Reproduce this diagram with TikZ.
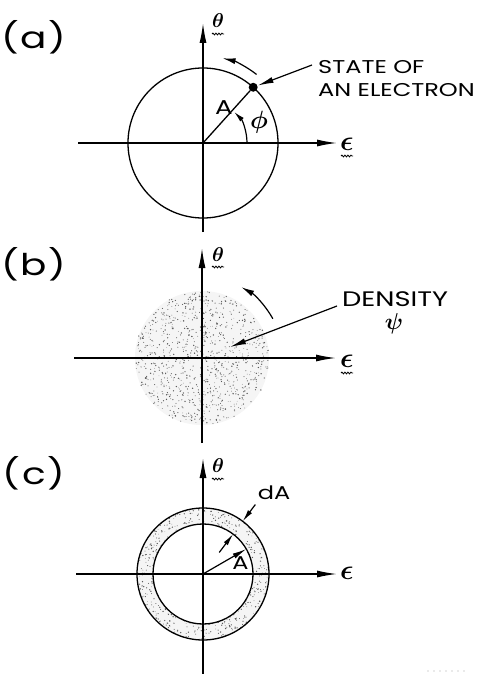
\documentclass[tikz,border=0pt]{standalone}
\usepackage{graphicx}
\usepackage{fontspec}
\setmainfont{Poppins}
\newfontfamily\lettr[FakeStretch=1.3]{Poppins}
\usetikzlibrary{arrows.meta,decorations.pathmorphing}
\tikzset{
  ln/.style={line width=1.3pt},
  axis/.style={line width=1.4pt, -{Latex[length=20pt,width=7pt]}},
  ptr/.style={line width=1.2pt, -{Latex[length=16pt,width=6pt]}},
  rot/.style={line width=1.2pt, -{Latex[length=13pt,width=6pt]}},
  lab/.style={font=\lettr\fontsize{18.5}{23}\selectfont, inner sep=0pt},
  biglab/.style={font=\lettr\fontsize{20}{24}\selectfont, inner sep=0pt},
  greek/.style={inner sep=0pt},
  wave/.style={line width=0.8pt, decorate, decoration={snake, amplitude=0.9pt, segment length=3pt}},
  panel/.style={font=\lettr\fontsize{30}{30}\selectfont\addfontfeature{LetterSpace=5}, inner sep=0pt},
  dot/.style={circle, fill=black, inner sep=0pt, minimum size=9pt},
}
\newcommand\mystipple[3]{%
  \fill[black!4, even odd rule] (0,0) circle[radius=#2pt] (0,0) circle[radius=#1pt];
  \foreach \k in {1,...,#3}{%
    \pgfmathsetmacro\qrad{sqrt(#1*#1+(#2*#2-#1*#1)*rnd)}%
    \pgfmathsetmacro\qang{360*rnd}%
    \pgfmathsetmacro\qsz{0.3+0.45*rnd}%
    \fill[black!65] (\qang:\qrad pt) circle[radius=\qsz pt];
  }}
\newcommand\gk[2]{\scalebox{#1}{\boldmath$#2$}}
\begin{document}
\begin{tikzpicture}[x=1pt,y=1pt]
\pgfmathsetseed{4711}
\useasboundingbox (0,0) rectangle (478,-674);
\fill[white] (0,0) rectangle (478,-674);

% ---------------- (a)
\node[panel] (pa) at (34,-37) {(a)};
\begin{scope}[shift={(203,-143)}]
  \coordinate (Oa) at (0,0);
  \draw[ln] (Oa) circle[radius=75pt];
  \coordinate (xa1) at (-125,0); \coordinate (xa2) at (134,0);
  \coordinate (ya1) at (0,-89);  \coordinate (ya2) at (0,120);
  \draw[axis] (xa1) -- (xa2);
  \draw[axis] (ya1) -- (ya2);
  \node[greek] (tha) at (15,122) {\gk{2.0}{\theta}};
  \draw[wave] (9,109) -- (21,109);
  \node[greek] (epa) at (144,-1) {\gk{2.8}{\epsilon}};
  \draw[wave] (138,-13) -- (150,-13);
  \node[dot] (ea) at (48:75pt) {};
  \draw[ln] (Oa) -- (ea);
  \draw[ptr, -{Latex[length=11pt,width=5pt]}] (44pt,0) arc[start angle=0, end angle=45, radius=44pt];
  \draw[rot] (52:87pt) arc[start angle=52, end angle=77, radius=87pt];
  \node[biglab] (Aa) at (21,35) {A};
  \node[greek] (phi) at (56,21) {\gk{2.5}{\phi}};
  \node[lab, align=left, anchor=north west] (sta) at (115,83) {STATE OF\\AN ELECTRON};
  \coordinate (sa) at (109,78);
  \draw[ptr] (sa) -- (ea);
\end{scope}

% ---------------- (b)
\node[panel] (pb) at (34,-264) {(b)};
\begin{scope}[shift={(202,-358)}]
  \coordinate (Ob) at (0,0);
  \mystipple{0}{67}{950}
  \coordinate (xb1) at (-128,0); \coordinate (xb2) at (134,0);
  \coordinate (yb1) at (0,-85);  \coordinate (yb2) at (0,110);
  \draw[axis] (xb1) -- (xb2);
  \draw[axis] (yb1) -- (yb2);
  \node[greek] (thb) at (16,103) {\gk{2.0}{\theta}};
  \draw[wave] (10,91) -- (22,91);
  \node[greek] (epb) at (145,-3) {\gk{2.8}{\epsilon}};
  \draw[wave] (139,-15) -- (151,-15);
  \draw[rot] (29:81pt) arc[start angle=29, end angle=61, radius=81pt];
  \node[lab, font=\lettr\fontsize{21}{24}\selectfont, anchor=base] (den) at (193,52) {DENSITY};
  \node[greek] (psi) at (192,34) {\gk{2.3}{\psi}};
  \coordinate (sb) at (135,52);
  \coordinate (tb) at (28,11);
  \draw[ptr] (sb) -- (tb);
\end{scope}

% ---------------- (c)
\node[panel] (pc) at (34,-473) {(c)};
\begin{scope}[shift={(203,-574)}]
  \coordinate (Oc) at (0,0);
  \mystipple{50}{66}{420}
  \draw[ln] (Oc) circle[radius=66pt];
  \draw[ln] (Oc) circle[radius=50pt];
  \coordinate (xc1) at (-127,0); \coordinate (xc2) at (134,0);
  \coordinate (yc1) at (0,-101); \coordinate (yc2) at (0,116);
  \draw[axis] (xc1) -- (xc2);
  \draw[axis] (yc1) -- (yc2);
  \node[greek] (thc) at (15,108) {\gk{2.0}{\theta}};
  \draw[wave] (9,95) -- (21,95);
  \node[greek] (epc) at (144,1) {\gk{2.8}{\epsilon}};
  \coordinate (ra) at (30:50pt);
  \draw[ptr, -{Latex[length=14pt,width=5.5pt]}] (Oc) -- (ra);
  \node[lab] (Ac) at (37.5,10.5) {A};
  \coordinate (d1) at (53:87pt); \coordinate (d2) at (53:66pt);
  \coordinate (d3) at (53:27pt); \coordinate (d4) at (53:50pt);
  \draw[ptr, -{Latex[length=12pt,width=5pt]}] (d1) -- (d2);
  \draw[ptr, -{Latex[length=12pt,width=5pt]}] (d3) -- (d4);
  \node[lab] (dA) at (71,81) {dA};
\end{scope}

\foreach \q in {0,...,6} \fill[black!35] (428+6*\q,-671) circle[radius=0.6pt];
\end{tikzpicture}
\end{document}
